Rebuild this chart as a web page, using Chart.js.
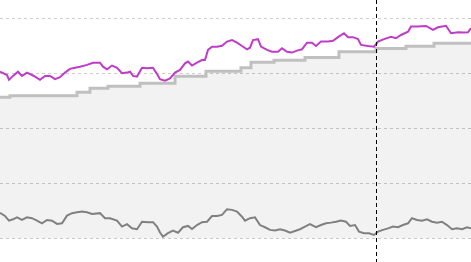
<!DOCTYPE html>
<html>
<head>
<meta charset="utf-8">
<script src="https://cdn.jsdelivr.net/npm/chart.js@4/dist/chart.umd.min.js"></script>
<style>
  html, body { margin: 0; padding: 0; background: #fff; }
  #wrap { width: 471px; height: 262px; }
</style>
</head>
<body>
<div id="wrap"><canvas id="chart"></canvas></div>
<script>
// upper noisy series
const upperX = [0,7,9,13,18,22,27,32,35,40,45,50,55,60,65,70,75,80,87,93,100,103,107,112,117,122,127,130,133,137,142,147,153,157,160,165,170,175,180,185,188,192,197,202,205,208,212,217,222,227,232,237,242,247,250,253,258,261,267,272,278,282,287,292,297,302,307,312,316,321,328,333,338,344,348,353,358,361,368,374,378,384,391,396,401,408,411,418,426,433,438,446,451,458,464,468,471]
const upperY = [75.7,74.2,72.0,73.8,75.7,73.8,75.3,74.2,73.5,72.0,73.8,73.8,72.3,73.2,75.3,77.0,77.5,78.0,78.8,79.8,79.8,78.0,76.8,78.5,77.5,75.0,75.3,75.7,73.8,73.5,77.5,77.3,77.5,74.7,72.3,71.6,72.7,75.3,76.5,79.5,80.3,78.5,79.8,81.0,81.0,85.6,87.1,87.1,87.5,89.4,90.1,88.9,87.4,85.9,86.6,90.1,90.5,87.1,85.6,84.8,84.8,86.4,84.8,84.4,85.3,85.9,88.9,88.9,87.4,89.4,89.4,89.8,91.4,93.2,91.4,91.4,90.5,87.9,87.4,87.1,89.4,90.5,91.6,90.9,92.4,93.9,96.2,96.2,96.5,94.7,95.9,96.6,93.2,93.6,93.5,93.6,95.5]

// stepped series (value holds from x until the next x)
const stepX = [0,10,77,90,108,140,175,206,241,251,274,305,339,376,406,434,471]
const stepY = [64.1,64.8,66.4,68.2,69.1,70.5,73.6,75.9,77.5,80.0,80.9,82.2,84.8,86.2,87.3,88.6,88.6]

// lower noisy series
const lowerX = [0,5,9,13,17,22,27,32,37,42,47,52,57,62,67,72,77,82,87,92,100,105,110,117,122,127,132,137,142,148,153,157,160,163,168,173,178,183,188,192,197,202,207,212,217,222,227,232,237,242,245,250,255,260,265,270,275,280,285,290,295,300,305,310,316,321,326,331,336,341,346,350,355,359,364,369,374,378,383,388,393,398,403,408,412,417,422,427,432,437,442,447,452,457,462,467,471]
const lowerY = [11.6,10.1,8.0,8.6,9.5,8.3,9.5,9.1,8.0,6.8,8.3,8.0,6.5,6.8,10.3,11.4,11.8,12.1,11.8,11.0,11.4,9.1,9.1,8.0,5.3,6.4,4.5,4.1,7.5,7.3,7.3,5.3,2.6,0.7,2.3,3.5,2.5,5.0,5.6,4.2,6.0,7.3,7.5,10.1,10.1,10.6,13.2,12.9,12.1,9.8,8.0,9.1,9.5,6.0,5.0,3.8,3.5,4.1,3.5,2.5,3.3,4.1,5.3,6.4,5.0,6.0,6.8,7.1,7.5,8.0,7.5,5.6,6.0,3.0,2.3,2.3,1.5,3.0,3.8,4.5,5.3,5.0,6.0,6.8,9.1,8.3,8.0,8.6,7.5,7.1,7.5,6.0,4.1,4.5,4.1,5.0,4.5]

const gridTicks = [0, 25, 50, 75, 100]
const markerX = 376

const pts = (xs, ys) => xs.map((x, i) => ({ x, y: ys[i] }))

const markerLine = {
    id: 'markerLine',
    afterDatasetsDraw(chart) {
        const { ctx, chartArea, scales } = chart
        const px = Math.round(scales.x.getPixelForValue(markerX)) + 0.5
        ctx.save()
        ctx.strokeStyle = '#000'
        ctx.lineWidth = 1
        ctx.setLineDash([4, 3])
        ctx.beginPath()
        ctx.moveTo(px, chartArea.top)
        ctx.lineTo(px, chartArea.bottom)
        ctx.stroke()
        ctx.restore()
    }
}

new Chart(document.getElementById('chart'), {
    type: 'line',
    data: {
        // first dataset is drawn on top
        datasets: [
            {
                data: pts(upperX, upperY),
                borderColor: '#c03cc8',
                borderWidth: 2,
                pointRadius: 0,
                tension: 0,
                fill: false,
            },
            {
                data: pts(lowerX, lowerY),
                borderColor: '#808080',
                borderWidth: 2,
                pointRadius: 0,
                tension: 0,
                fill: false,
            },
            {
                data: pts(stepX, stepY),
                borderColor: '#c0c0c0',
                borderWidth: 3,
                backgroundColor: 'rgba(0,0,0,0.05)',
                pointRadius: 0,
                stepped: 'before',
                fill: 'origin',
            },
        ]
    },
    options: {
        responsive: true,
        maintainAspectRatio: false,
        animation: false,
        layout: { padding: 0 },
        plugins: { legend: { display: false }, tooltip: { enabled: false } },
        scales: {
            x: { type: 'linear', min: 0, max: 471, display: false },
            y: {
                min: -10.8,
                max: 108.3,
                afterBuildTicks(scale) { scale.ticks = gridTicks.map(v => ({ value: v })) },
                ticks: { display: false },
                border: { display: false, dash: [3, 3] },
                grid: { color: '#cccccc', lineWidth: 1, drawTicks: false, tickLength: 0 },
            }
        }
    },
    plugins: [markerLine]
})
</script>
</body>
</html>
